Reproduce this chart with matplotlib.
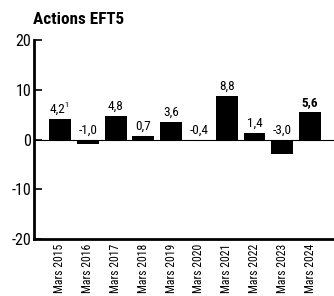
import matplotlib
matplotlib.use("Agg")
import matplotlib.pyplot as plt
from matplotlib import font_manager

categories = ["Mars 2015", "Mars 2016", "Mars 2017", "Mars 2018", "Mars 2019",
              "Mars 2020", "Mars 2021", "Mars 2022", "Mars 2023", "Mars 2024"]
values = [4.2, -1.0, 4.8, 0.7, 3.6, -0.4, 8.8, 1.4, -3.0, 5.6]
labels = ["4,2", "-1,0", "4,8", "0,7", "3,6", "-0,4", "8,8", "1,4", "-3,0", "5,6"]
yticks = [-20, -10, 0, 10, 20]
title = "Actions EFT5"

names = {f.name for f in font_manager.fontManager.ttflist}
if "Roboto Condensed" in names:
    fam, stretch = "Roboto Condensed", "normal"
else:
    fam, stretch = "DejaVu Sans", "condensed"
plt.rcParams["font.family"] = [fam, "DejaVu Sans"]
plt.rcParams["font.stretch"] = stretch

fig = plt.figure(figsize=(3.34, 2.96), dpi=100)
ax = fig.add_axes([34/334, 57/296, 300/334, 199/296])

x = list(range(len(values)))
ax.bar(x, values, width=0.79, color="black", zorder=3)
ax.axhline(0, color="black", lw=0.8, zorder=2)

ax.set_xlim(-0.935, 9.86)
ax.set_ylim(-20, 20)
ax.set_yticks(yticks)
ax.set_yticklabels([str(t) if t >= 0 else "-" + str(-t) for t in yticks],
                   fontsize=11.5, fontstretch=stretch)
ax.tick_params(axis="y", direction="in", length=6, width=1.2, pad=2)
ax.set_xticks(x)
ax.set_xticklabels(categories, rotation=90, fontsize=8.5, fontstretch=stretch)
ax.tick_params(axis="x", length=0, pad=3.5)

for s in ["top", "right"]:
    ax.spines[s].set_visible(False)
ax.spines["left"].set_linewidth(2)
ax.spines["bottom"].set_linewidth(2)

for i, (v, lab) in enumerate(zip(values, labels)):
    y = max(v, 0) + 0.6
    bold = (i == len(values) - 1)
    if i == 0:
        ax.annotate(lab, xy=(i, y), xytext=(-2, 0), textcoords="offset points",
                    ha="center", va="bottom", fontsize=9.5, fontstretch=stretch)
        ax.annotate("1", xy=(i, y), xytext=(3.3, 5.5), textcoords="offset points",
                    ha="left", va="bottom", fontsize=6, fontstretch=stretch,
                    annotation_clip=False)
    else:
        ax.text(i, y, lab, ha="center", va="bottom", fontsize=9.5,
                fontweight="bold" if bold else "normal", fontstretch=stretch)

fig.text(33/334, 1 - 20/296, title, fontsize=12.3, fontweight="bold",
         ha="left", va="center", fontstretch=stretch)

fig.savefig("out.png", dpi=100)
